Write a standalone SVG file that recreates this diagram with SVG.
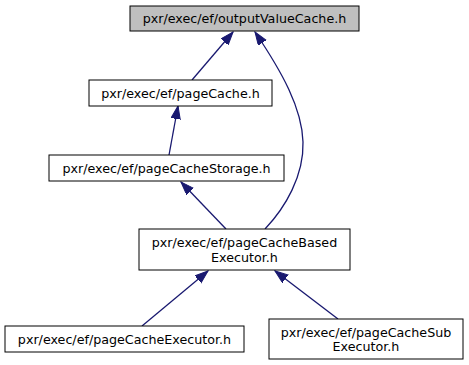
<svg xmlns="http://www.w3.org/2000/svg" width="469" height="365" viewBox="0 0 469 365">
<style>
.node rect{fill:#ffffff;stroke:#000000;stroke-width:1}
.node.main rect{fill:#bfbfbf}
.node text{font-family:"DejaVu Sans","Liberation Sans",sans-serif;font-size:12.7px;fill:#000000;text-anchor:middle}
.edges path{fill:none;stroke:#191970;stroke-width:1.3;marker-end:url(#arr)}
</style>
<defs>
<marker id="arr" markerUnits="userSpaceOnUse" markerWidth="14" markerHeight="11" refX="13" refY="4.7" orient="auto" viewBox="0 0 14 11">
<path d="M0,0 L13,4.7 L0,9.4 z" fill="#191970" stroke="#191970" stroke-width="1"/>
</marker>
</defs>
<rect width="469" height="365" fill="#ffffff"/>
<g class="edges">
<path d="M192,80 L233,32"/>
<path d="M265,229 C285,208 304,176 303,142 C302,108 282,72 255,32"/>
<path d="M169,155 L178,106"/>
<path d="M226,229 L181,182"/>
<path d="M142,326 L208,271"/>
<path d="M338,319 L275,271"/>
</g>
<g id="node-outputValueCache" class="node main">
<rect x="130" y="6" width="229" height="25"/>
<text x="244.5" y="23">pxr/exec/ef/outputValueCache.h</text>
</g>
<g id="node-pageCache" class="node">
<rect x="89" y="80" width="183" height="26"/>
<text x="180.5" y="97.5">pxr/exec/ef/pageCache.h</text>
</g>
<g id="node-pageCacheStorage" class="node">
<rect x="49" y="155" width="235" height="26"/>
<text x="166.5" y="172.5">pxr/exec/ef/pageCacheStorage.h</text>
</g>
<g id="node-pageCacheBasedExecutor" class="node">
<rect x="139" y="229" width="211" height="41"/>
<text x="244.5" y="246.5">pxr/exec/ef/pageCacheBased</text>
<text x="244.5" y="261.5">Executor.h</text>
</g>
<g id="node-pageCacheExecutor" class="node">
<rect x="5" y="326" width="239" height="26"/>
<text x="124.5" y="343.5">pxr/exec/ef/pageCacheExecutor.h</text>
</g>
<g id="node-pageCacheSubExecutor" class="node">
<rect x="269" y="319" width="194" height="40"/>
<text x="366" y="336.5">pxr/exec/ef/pageCacheSub</text>
<text x="366" y="351">Executor.h</text>
</g>
</svg>
